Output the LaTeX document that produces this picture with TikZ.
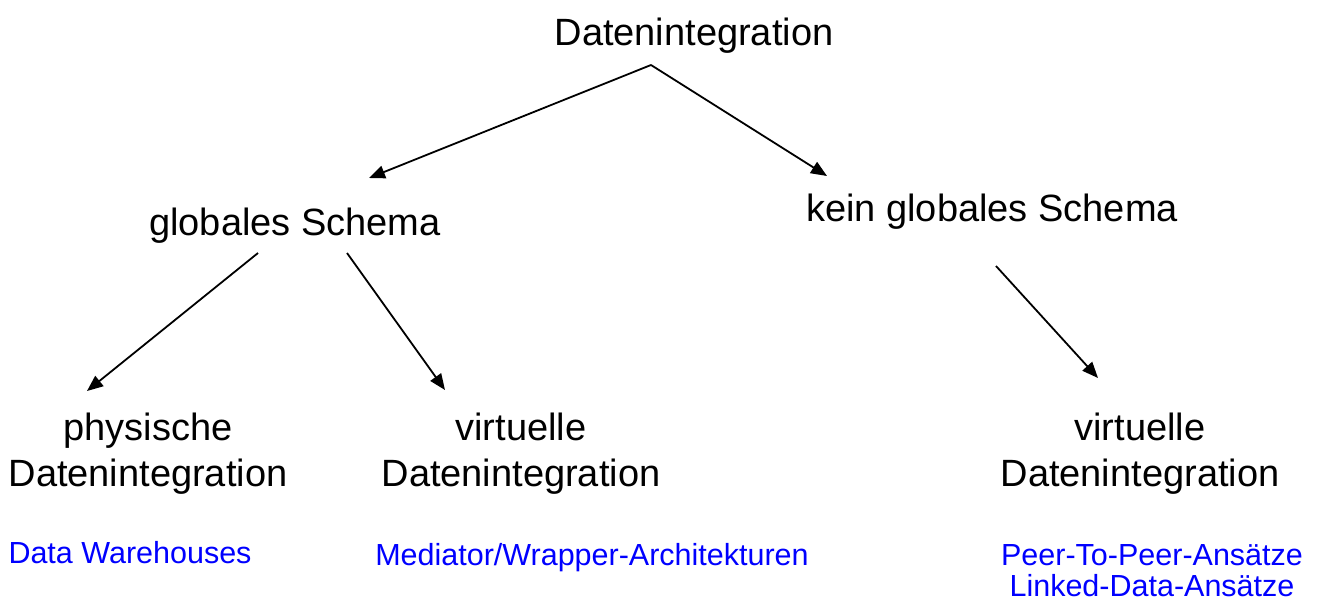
\documentclass[tikz,border=0pt]{standalone}
\usepackage{fontspec}
\setmainfont{Liberation Sans}
\usetikzlibrary{arrows.meta}
\tikzset{
  lbl/.style={inner sep=0pt, anchor=base, align=center, font=\fontsize{38}{46}\selectfont},
  ex/.style={inner sep=0pt, anchor=base, align=center, text=blue, font=\fontsize{30.5}{31}\selectfont},
  arr/.style={line width=1.8pt, -{Triangle[length=16pt,width=13pt]}}
}
\begin{document}
\begin{tikzpicture}[x=1pt,y=-1pt]
  \useasboundingbox[fill=white] (0,0) rectangle (1317,603);
  % tree of terms (multi-line nodes are placed by their last baseline)
  \node[lbl] (top)   at (694,45)  {Datenintegration};
  \node[lbl] (glob)  at (295,235) {globales Schema};
  \node[lbl] (kein)  at (992,221) {kein globales Schema};
  \node[lbl] (phys)  at (148,486) {physische\\Datenintegration};
  \node[lbl] (virtA) at (521,486) {virtuelle\\Datenintegration};
  \node[lbl] (virtB) at (1140,486) {virtuelle\\Datenintegration};
  % examples
  \node[ex] (dw)  at (130,563)  {Data Warehouses};
  \node[ex] (med) at (592,565)  {Mediator/Wrapper-Architekturen};
  \node[ex] (p2p) at (1152,596) {Peer-To-Peer-Ansätze\\Linked-Data-Ansätze};
  % branches
  \draw[arr] ([shift={(-43,20)}]top.base) -- ([shift={(74,-57)}]glob.base);
  \draw[arr] ([shift={(-43,20)}]top.base) -- ([shift={(-165,-45)}]kein.base);
  \draw[arr] ([shift={(-37,18)}]glob.base) -- ([shift={(-61,-95)}]phys.base);
  \draw[arr] ([shift={(52,18)}]glob.base) -- ([shift={(-76,-96)}]virtA.base);
  \draw[arr] ([shift={(4,45)}]kein.base) -- ([shift={(-42,-108)}]virtB.base);
\end{tikzpicture}
\end{document}
